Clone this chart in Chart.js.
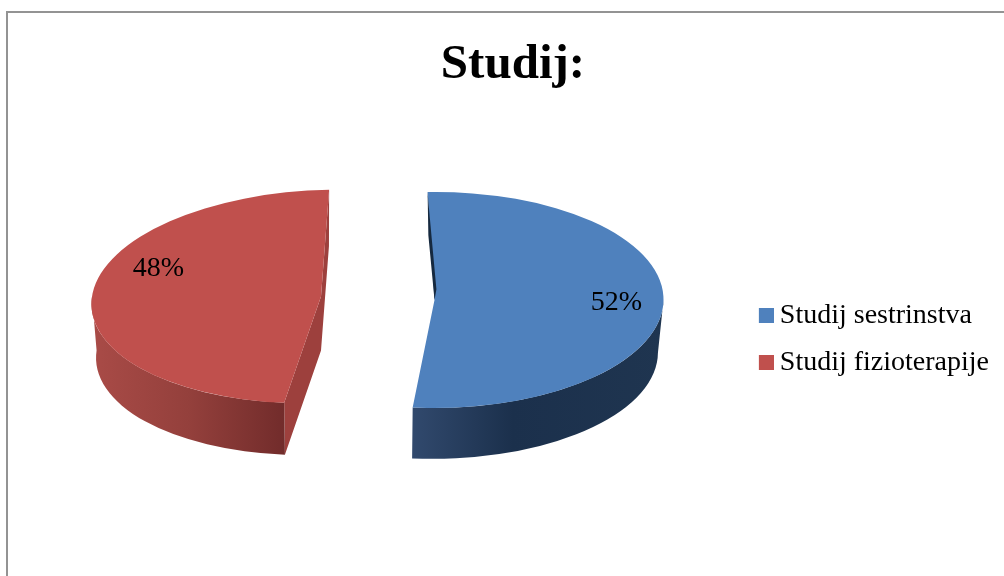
<!DOCTYPE html>
<html><head><meta charset="utf-8">
<style>
html,body{margin:0;padding:0;background:#fff;width:1004px;height:576px;overflow:hidden}
#frame{position:absolute;left:6px;top:11px;right:0;bottom:0;border-top:2px solid #939393;border-left:2px solid #939393}
#wrap{position:absolute;left:0;top:0;width:1004px;height:576px}
</style>
<script src="https://cdn.jsdelivr.net/npm/chart.js@4"></script>
</head><body>
<div id="frame"></div>
<div id="wrap"><canvas id="c" width="1004" height="576"></canvas></div>
<script>
const categories = ["Studij sestrinstva", "Studij fizioterapije"];
const values = [52, 48];
const colors = ["#4f81bd", "#c0504d"];
const chartTitle = "Studij:";

const FONT = '"Liberation Serif", serif';
const R = 229;
// 3D look of each slice: screen centre, squash, shear, extrusion, wall shading
const looks = [
  {cx:434.5, cy:300, ry:108, k:-0.01, dx:-1, dy:53, rf:0.98, wall:[[0,"#31496d"],[0.4,"#1b304c"],[1,"#1f3550"]], face:"#16293f", lblShift:0, lblFrac:0.795},
  {cx:321, cy:296.5, ry:106.8, k:-0.151, dx:0, dy:54, rf:0.98, wall:[[0,"#a94b47"],[0.5,"#94403c"],[1,"#722c2b"]], face:"#9d403d", lblShift:18.6, lblFrac:0.756}
];

function place(ctx, base, arc, l, lower){
  ctx.setTransform(base);
  ctx.translate(l.cx + (lower?l.dx:0), l.cy + (lower?l.dy:0));
  ctx.transform(1,0,l.k,1,0,0);
  const f = lower ? l.rf : 1;
  ctx.scale(f, f * l.ry / arc.outerRadius);
  ctx.translate(-arc.x, -arc.y);
}
function pt(ctx, arc, a, r){
  const p = new DOMPoint(arc.x + Math.cos(a)*r, arc.y + Math.sin(a)*r).matrixTransform(ctx.getTransform());
  return [p.x, p.y];
}

const solid3d = {
  id:'solid3d',
  beforeDatasetsDraw(chart){
    const ctx = chart.ctx, arcs = chart.getDatasetMeta(0).data;
    const base = ctx.getTransform();
    ctx.save();
    arcs.forEach((arc,i)=>{
      const l = looks[i], r = arc.outerRadius;
      const s = arc.startAngle, e = arc.endAngle;
      if(i===1){
        place(ctx,base,arc,l,false);
        const a=pt(ctx,arc,e,r), b=pt(ctx,arc,0,0), c=pt(ctx,arc,s,r);
        place(ctx,base,arc,l,true);
        const d=pt(ctx,arc,s,r), f=pt(ctx,arc,0,0), g=pt(ctx,arc,e,r);
        ctx.setTransform(base);
        ctx.beginPath();
        [a,b,c,d,f,g].forEach((p,n)=> n?ctx.lineTo(p[0],p[1]):ctx.moveTo(p[0],p[1]));
        ctx.closePath();
        ctx.fillStyle=l.face; ctx.fill();
      }
      const from = Math.max(s, 0), to = Math.min(e, Math.PI);
      ctx.beginPath();
      place(ctx,base,arc,l,false);
      ctx.arc(arc.x,arc.y,r,from,to,false);
      place(ctx,base,arc,l,true);
      ctx.arc(arc.x,arc.y,r,to,from,true);
      place(ctx,base,arc,l,false);
      const x0=pt(ctx,arc,to,r)[0], x1=pt(ctx,arc,from,r)[0];
      ctx.setTransform(base);
      ctx.closePath();
      const g = ctx.createLinearGradient(Math.min(x0,x1),0,Math.max(x0,x1),0);
      l.wall.forEach(st=>g.addColorStop(st[0],st[1]));
      ctx.fillStyle=g; ctx.fill();
      ctx.save();
      place(ctx,base,arc,l,false);
      arc.draw(ctx);
      ctx.restore();
      if(i===0){
        place(ctx,base,arc,l,false);
        const a=pt(ctx,arc,s,r), b=pt(ctx,arc,0,0);
        ctx.setTransform(base);
        const lerp=(t,o)=>[a[0]+(b[0]-a[0])*t+o, a[1]+(b[1]-a[1])*t];
        ctx.beginPath();
        [[0,0],[0.4,-2],[1,0],[0.9,2.6],[0.14,0.3]].forEach((q,n)=>{
          const p=lerp(q[0],q[1]); n?ctx.lineTo(p[0],p[1]):ctx.moveTo(p[0],p[1]);
        });
        ctx.closePath();
        ctx.fillStyle=l.face; ctx.fill();
      }
    });
    ctx.setTransform(base);
    ctx.font = '28px '+FONT;
    ctx.fillStyle='#000';
    ctx.textAlign='center';
    ctx.textBaseline='middle';
    arcs.forEach((arc,i)=>{
      const l=looks[i];
      const mid=(arc.startAngle+arc.endAngle)/2 + l.lblShift*Math.PI/180;
      const x=l.cx+Math.cos(mid)*R*l.lblFrac;
      const y=l.cy+Math.sin(mid)*l.ry*l.lblFrac;
      ctx.fillText(values[i]+'%',x,y);
    });
    ctx.restore();
  },
  beforeDatasetDraw(){ return false; }
};

new Chart(document.getElementById('c'),{
  type:'pie',
  plugins:[solid3d],
  data:{labels:categories,datasets:[{data:values,backgroundColor:colors,borderWidth:0}]},
  options:{
    responsive:false,
    animation:false,
    rotation:-2,
    radius:R,
    layout:{padding:{left:27,top:36,right:5,bottom:0}},
    plugins:{
      tooltip:{enabled:false},
      title:{display:true,text:chartTitle,color:'#000',font:{family:FONT,size:49,weight:'bold'},padding:{top:0,bottom:8}},
      legend:{
        position:'right',
        fullSize:false,
        labels:{
          color:'#000',
          font:{family:FONT,size:28},
          usePointStyle:true,
          boxWidth:3,
          boxHeight:3,
          padding:19,
          generateLabels(chart){
            return categories.map((t,i)=>{
              const c=document.createElement('canvas');
              c.width=19;c.height=15;
              const x=c.getContext('2d');x.fillStyle=colors[i];x.fillRect(4,0,15,15);
              return {text:t,fillStyle:colors[i],strokeStyle:colors[i],lineWidth:0,pointStyle:c,index:i,hidden:false,fontColor:'#000'};
            });
          }
        }
      }
    }
  }
});
</script>
</body></html>
